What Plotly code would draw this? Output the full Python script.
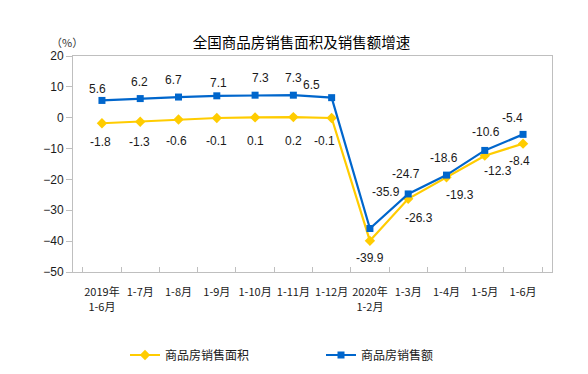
import plotly.graph_objects as go

categories = ["2019年<br>1-6月", "1-7月", "1-8月", "1-9月", "1-10月", "1-11月", "1-12月",
              "2020年<br>1-2月", "1-3月", "1-4月", "1-5月", "1-6月"]
area_growth = [-1.8, -1.3, -0.6, -0.1, 0.1, 0.2, -0.1, -39.9, -26.3, -19.3, -12.3, -8.4]
sales_growth = [5.6, 6.2, 6.7, 7.1, 7.3, 7.3, 6.5, -35.9, -24.7, -18.6, -10.6, -5.4]
area_name = "商品房销售面积"
sales_name = "商品房销售额"
title_text = "全国商品房销售面积及销售额增速"
y_ticks = [-50, -40, -30, -20, -10, 0, 10, 20]

# label offsets in pixels (style only)
sales_dx = [-4, -1, -5, 2, 5, 0, -20, 16, -2, -2, 1, -11]
sales_dy = [11, 17, 17, 13, 17, 17, 13, 36, 20, 17, 18, 16]
area_dx = [-1, -1, -2, 0, 0, 0, -7, 0, 11, 14, 13, -4]
area_dy = [-19, -20, -21, -23, -24, -24, -23, -17, -19, -18, -15, -17]

YELLOW = "#FFCC00"
BLUE = "#0066CC"
LABEL_FONT = dict(family="Liberation Sans, Arial", size=12, color="#1a1a1a")
CJK = "Noto Sans CJK SC"

# plot area in pixels
L, R, T, B = 73, 552, 56, 272
W, H = R - L, B - T


def px_x(px):
    return (px - L) / W


def px_y(py):
    return (B - py) / H


fig = go.Figure()
fig.add_trace(go.Scatter(
    x=categories, y=area_growth, name=area_name, mode="lines+markers",
    line=dict(color=YELLOW, width=2.2),
    marker=dict(symbol="diamond", size=8, color=YELLOW),
))
fig.add_trace(go.Scatter(
    x=categories, y=sales_growth, name=sales_name, mode="lines+markers",
    line=dict(color=BLUE, width=2.2),
    marker=dict(symbol="square", size=7, color=BLUE),
))

annotations = []
for c, v, dx, dy in zip(categories, sales_growth, sales_dx, sales_dy):
    annotations.append(dict(x=c, y=v, xref="x", yref="y", text=f"{v:g}", showarrow=False,
                            xshift=dx, yshift=dy, font=LABEL_FONT))
for c, v, dx, dy in zip(categories, area_growth, area_dx, area_dy):
    annotations.append(dict(x=c, y=v, xref="x", yref="y", text=f"{v:g}", showarrow=False,
                            xshift=dx, yshift=dy, font=LABEL_FONT))
annotations.append(dict(x=px_x(49), y=px_y(32), xref="paper", yref="paper", text="（%）",
                        showarrow=False, font=dict(family=CJK, size=11, color="#333333")))

fig.update_layout(
    width=588, height=374,
    margin=dict(l=L, r=588 - R, t=T, b=374 - B, autoexpand=False),
    paper_bgcolor="white", plot_bgcolor="white",
    title=dict(text=title_text, x=301.5 / 588, xanchor="center", y=1 - 43 / 374, yanchor="middle",
               font=dict(family=CJK, size=14.5, color="#000000")),
    annotations=annotations,
    showlegend=True,
    legend=dict(orientation="h", x=px_x(125), xanchor="left", y=px_y(355), yanchor="middle",
                entrywidth=151, entrywidthmode="pixels",
                font=dict(family=CJK, size=12, color="#1a1a1a"), bgcolor="rgba(0,0,0,0)"),
    xaxis=dict(
        type="category", showline=True, linecolor="#BFBFBF", linewidth=1, mirror=True,
        ticks="inside", tickson="boundaries", ticklen=5, tickcolor="#BFBFBF",
        showgrid=False, zeroline=False, tickangle=0,
        tickfont=dict(family=CJK, size=11, color="#1a1a1a"),
        ticklabelstandoff=10,
    ),
    yaxis=dict(
        range=[-50, 20], tickvals=y_ticks, showline=True, linecolor="#BFBFBF", linewidth=1,
        mirror=True, ticks="outside", ticklen=6, tickcolor="#BFBFBF",
        showgrid=False, zeroline=False,
        tickfont=dict(family="Liberation Sans, Arial", size=12, color="#1a1a1a"),
    ),
)

fig.write_html("out.html", config={"displayModeBar": False},
               post_script="document.body.style.margin='0';")
